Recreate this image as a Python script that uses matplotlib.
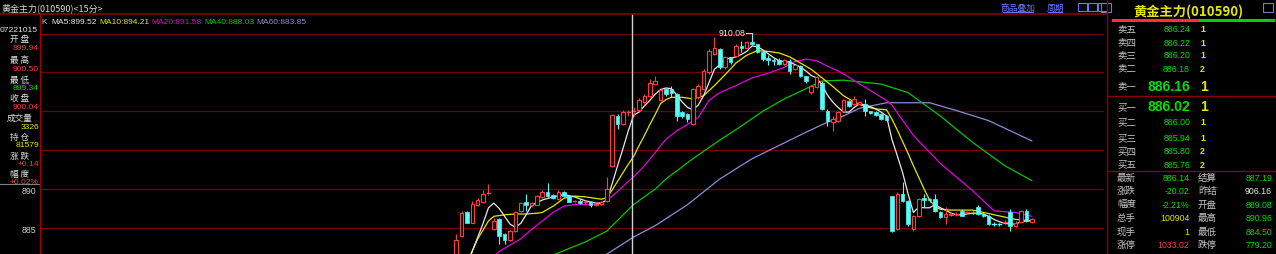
import matplotlib
matplotlib.use('Agg')
import matplotlib.pyplot as plt
from matplotlib.lines import Line2D
from matplotlib.patches import Rectangle

# ---------------- data ----------------
opens = [881.5, 884.0, 887.0, 885.7, 887.9, 888.3, 889.4, 884.9, 886.16, 884.2,
         883.4, 884.65, 887.2, 888.3, 887.9, 888.0, 888.95, 889.6, 889.25, 888.7,
         889.65, 889.15, 888.35, 888.5, 888.3, 888.4, 887.9, 888.1, 888.5, 893.0,
         899.45, 898.4, 899.85, 899.94, 900.2, 901.2, 902.0, 903.5, 901.45, 902.85,
         902.85, 902.2, 899.9, 899.65, 898.35, 901.8, 902.9, 905.0, 907.35, 908.0,
         905.65, 906.95, 907.1, 908.4, 908.2, 908.85, 908.6, 907.6, 906.8, 906.6,
         906.55, 906.1, 906.5, 905.45, 905.85, 904.55, 902.45, 903.1, 903.7, 900.1,
         898.6, 898.8, 900.1, 901.35, 900.9, 900.95, 900.95, 900.0, 899.9, 899.65,
         899.4, 889.08, 884.9, 889.4, 888.5, 884.9, 886.6, 888.8, 888.75, 888.7,
         887.1, 886.4, 886.7, 886.75, 887.2, 886.95, 887.05, 887.65, 886.8, 886.6,
         885.55, 885.55, 885.7, 887.0, 885.3, 885.75, 887.2, 885.75]
highs = [884.2, 887.2, 887.2, 888.5, 888.8, 889.9, 890.7, 886.3, 886.3, 884.4,
         884.8, 887.2, 888.4, 889.4, 888.4, 889.3, 889.9, 890.8, 889.4, 889.9,
         889.8, 889.3, 888.6, 888.7, 888.6, 888.5, 888.2, 888.5, 891.5, 899.7,
         899.6, 900.2, 900.2, 900.50, 901.7, 902.2, 904.15, 904.6, 902.9, 903.0,
         903.2, 902.4, 900.1, 899.8, 903.0, 903.5, 905.4, 908.0, 909.5, 908.2,
         907.1, 907.0, 908.6, 909.1, 909.0, 910.08, 908.7, 907.7, 907.2, 906.9,
         906.8, 906.7, 906.7, 906.0, 906.0, 904.6, 903.4, 904.5, 903.9, 900.3,
         899.4, 900.1, 901.6, 901.5, 902.0, 901.3, 901.6, 900.1, 900.0, 899.8,
         899.5, 889.1, 889.6, 890.96, 888.6, 886.7, 888.9, 889.4, 888.9, 889.4,
         887.2, 887.65, 887.0, 887.0, 887.4, 887.2, 887.2, 887.9, 886.9, 886.7,
         885.8, 885.7, 886.0, 887.45, 885.9, 887.3, 887.4, 886.3]
lows = [881.2, 883.8, 885.6, 885.6, 887.8, 888.2, 889.3, 884.7, 882.94, 882.9,
        883.3, 884.5, 887.1, 887.2, 887.7, 887.9, 888.9, 889.0, 888.7, 888.6,
        889.0, 888.3, 888.2, 888.1, 888.1, 887.7, 887.8, 888.0, 888.4, 892.9,
        897.7, 898.2, 899.45, 899.34, 900.0, 901.0, 901.9, 903.4, 901.3, 902.0,
        901.8, 898.8, 899.2, 898.6, 898.2, 901.6, 902.7, 904.8, 907.2, 905.4,
        905.5, 906.1, 907.0, 907.6, 908.1, 908.5, 907.5, 906.5, 905.9, 905.9,
        906.0, 906.0, 904.8, 905.3, 904.4, 903.7, 902.2, 903.0, 900.2, 898.15,
        897.5, 898.6, 900.0, 900.6, 900.8, 900.8, 899.45, 899.6, 899.4, 898.9,
        898.8, 884.50, 884.7, 888.3, 885.3, 884.65, 886.4, 887.65, 888.4, 887.0,
        886.3, 885.5, 886.5, 886.6, 886.5, 886.8, 886.8, 886.7, 886.4, 885.4,
        885.3, 885.3, 885.5, 884.65, 885.1, 885.6, 885.8, 885.6]
closes = [883.5, 886.9, 885.7, 888.1, 888.6, 889.4, 889.5, 885.95, 883.97, 883.4,
          884.65, 887.0, 888.2, 887.9, 888.2, 889.1, 889.6, 889.1, 888.8, 889.65,
          889.15, 888.4, 888.45, 888.2, 888.4, 887.95, 888.1, 888.35, 890.0, 899.5,
          898.35, 899.9, 899.95, 900.04, 901.5, 902.0, 903.7, 903.9, 902.7, 902.2,
          902.4, 899.4, 899.45, 899.0, 902.85, 903.3, 905.2, 907.8, 908.2, 905.65,
          906.95, 906.3, 908.4, 908.2, 908.85, 908.65, 907.6, 906.7, 906.65, 906.45,
          906.1, 906.55, 905.2, 905.9, 904.55, 903.9, 903.3, 904.4, 900.3, 898.8,
          899.0, 899.9, 901.4, 900.7, 901.55, 901.15, 900.1, 899.75, 899.5, 899.0,
          898.9, 884.65, 889.4, 888.5, 885.5, 886.6, 888.7, 888.65, 888.6, 887.2,
          886.4, 886.8, 886.85, 886.85, 886.6, 887.05, 886.95, 886.8, 886.6, 885.5,
          885.45, 885.45, 885.8, 885.3, 885.7, 887.2, 885.95, 886.14]

ma5_idx = [2, 4, 5, 6, 7, 8, 9, 10, 11, 12, 13, 14, 16, 18, 20, 22, 24, 26, 27, 28,
           29, 30, 31, 32, 33, 34, 35, 36, 37, 38, 39, 40, 41, 42, 43, 44, 45, 46, 47, 48,
           49, 50, 51, 52, 53, 54, 55, 56, 57, 58, 59, 60, 62, 64, 65, 66, 67, 68, 69, 70,
           71, 72, 73, 74, 75, 76, 77, 78, 79, 80, 81, 82, 83, 84, 85, 86, 87, 88, 89, 90,
           91, 92, 93, 94, 95, 96, 97, 98, 99, 100, 101, 102, 103, 104, 105, 106, 107]
ma5_val = [880.2, 883.8, 885.6, 887.6, 888.2, 887.5, 886.5, 885.5, 885.1, 885.6, 886.7, 887.9,
           888.6, 889.0, 889.3, 889.0, 888.5, 888.2, 888.2, 888.6,
           890.7, 893.0, 895.2, 897.5, 899.52, 899.9, 900.7, 901.4, 902.2, 902.8, 903.0, 902.9,
           902.1, 901.2, 900.5, 900.2, 900.8, 902.0, 903.7, 905.4,
           906.0, 906.8, 906.8, 907.0, 907.3, 907.7, 908.4, 908.3, 907.9, 907.4, 906.9, 906.5,
           906.3, 905.7, 905.2, 904.6, 904.3, 903.4, 902.1, 901.2,
           900.5, 899.9, 899.9, 900.5, 901.0, 900.8, 900.6, 900.3, 899.9, 899.4, 896.4, 894.3,
           892.1, 889.4, 887.0, 887.7, 887.6, 887.6, 888.0, 887.6,
           887.3, 886.9, 886.7, 886.7, 886.8, 886.9, 886.9, 886.8, 886.5, 886.1, 885.8, 885.6,
           885.5, 885.5, 885.8, 885.9, 886.0]
ma10_idx = [2, 4, 6, 7, 9, 11, 13, 15, 16, 17, 18, 19, 20, 21, 22, 24, 26, 27, 28,
            29, 30, 31, 32, 33, 34, 35, 36, 37, 38, 39, 40, 42, 44, 46, 48, 50, 52, 54, 56,
            58, 60, 62, 64, 66, 68, 70, 72, 74, 76, 78, 80, 81, 82, 83, 84, 85, 86, 87, 88,
            89, 90, 92, 94, 96, 98, 100, 102, 104, 107]
ma10_val = [880.6, 883.6, 885.9, 886.5, 886.7, 886.8, 886.8, 886.9, 887.0, 887.4, 887.8,
            888.3, 888.8, 889.0, 889.1, 889.0, 888.8, 888.7, 888.9,
            889.9, 891.0, 892.1, 893.2, 894.21, 895.6, 896.9, 898.3, 899.6, 901.0, 901.5, 901.8,
            901.8, 901.6, 902.0, 903.3, 904.7, 906.2, 907.2, 907.8,
            907.7, 907.5, 907.0, 906.2, 905.4, 904.3, 903.2, 902.0, 901.2, 900.6, 900.3, 900.2,
            899.0, 897.6, 896.1, 894.6, 893.0, 891.5, 890.0, 888.6,
            887.8, 887.4, 887.3, 887.3, 887.3, 887.0, 886.7, 886.4, 886.1, 885.9]
ma20_idx = [5, 8, 12, 14, 16, 18, 20, 22, 24, 26, 28, 30, 32, 33, 35, 37, 39, 41, 43, 45,
            47, 49, 52, 55, 58, 61, 63, 65, 67, 69, 71, 72, 76, 80, 81, 85, 90, 96, 100, 104, 107]
ma20_val = [879.8, 882.0, 883.6, 884.8, 885.9, 887.0, 887.8, 888.0, 888.0, 888.0, 888.5,
            889.7, 891.0, 891.58, 893.0, 894.7, 896.4, 897.5, 898.3, 899.2,
            901.4, 902.4, 903.3, 904.3, 904.9, 905.65, 906.4, 906.7, 906.5, 905.8, 905.2,
            904.8, 903.1, 901.4, 900.8, 896.9, 893.3, 889.8, 887.2, 887.0, 886.5]
ma40_idx = [16, 20, 24, 28, 33, 37, 39, 44, 49, 53, 57, 61, 65, 68, 72, 79, 84, 90, 96, 102, 107]
ma40_val = [880.9, 882.1, 883.2, 884.6, 888.03, 890.0, 891.3, 893.9, 896.3, 898.1, 900.0,
            901.6, 902.9, 903.9, 904.0, 903.5, 902.4, 899.4, 896.0, 893.0, 891.1]
ma60_idx = [27, 33, 37, 43, 49, 55, 60, 65, 69, 72, 75, 80, 88, 93, 99, 103, 107]
ma60_val = [881.2, 883.85, 885.3, 888.0, 891.3, 893.9, 895.6, 897.3, 898.6, 899.4, 900.4,
            901.1, 901.1, 900.1, 898.8, 897.5, 896.2]

grid_prices = [885, 890, 895, 900, 905, 910]
axis_labels = ['890', '885']
axis_label_prices = [890, 885]
cursor_idx = 33
peak_label = '910.08'

info_labels = ['开 盘', '最 高', '最 低', '收 盘', '成交量', '持 仓', '涨 跌', '幅 度']
info_values = ['899.94', '900.50', '899.34', '900.04', '3326', '81579', '+0.14', '+0.02%']
info_date = '07221015'

legend_names = ['MA5', 'MA10', 'MA20', 'MA40', 'MA60']
legend_values = ['899.52', '894.21', '891.58', '888.03', '883.85']

title_text = '黄金主力(010590)<15分>'
panel_title = '黄金主力(010590)'
ask_labels = ['卖五', '卖四', '卖三', '卖二', '卖一']
ask_prices = ['886.24', '886.22', '886.20', '886.18', '886.16']
ask_vols = ['1', '1', '1', '2', '1']
bid_labels = ['买一', '买二', '买三', '买四', '买五']
bid_prices = ['886.02', '886.00', '885.94', '885.80', '885.76']
bid_vols = ['1', '1', '1', '2', '2']
stat_l_labels = ['最新', '涨跌', '幅度', '总手', '现手', '涨停']
stat_l_values = ['886.14', '-20.02', '-2.21%', '100904', '1', '1033.02']
stat_r_labels = ['结算', '昨结', '开盘', '最高', '最低', '跌停']
stat_r_values = ['887.19', '906.16', '889.08', '890.96', '884.50', '779.20']

# ---------------- style ----------------
W, H = 1276, 255
BG = '#000000'
RED = '#ff3c3c'
CYAN = '#54fcfc'
GRID = '#700000'
GREEN = '#00e000'
YEL = '#e6e600'
LBL = '#c8c8c8'
MA_COLORS = ['#e8e8e8', '#e6e600', '#e000e0', '#00c800', '#8c8cd8']
CJK = ['Noto Sans CJK SC', 'DejaVu Sans']
NUM = ['Liberation Sans', 'DejaVu Sans']

fig = plt.figure(figsize=(W / 100, H / 100), dpi=100, facecolor=BG)


def ft(x, y, s, **kw):
    kw.setdefault('va', 'center')
    return fig.text(x / W, 1 - y / H, s, **kw)


def fline(x0, x1, y0, y1, color, lw=1.0):
    fig.add_artist(Line2D([x0 / W, x1 / W], [1 - y0 / H, 1 - y1 / H],
                          color=color, lw=lw, transform=fig.transFigure))


# main chart axes: pixel x 40..1104, y 15..255
AX_L, AX_R, AX_T, AX_B = 40, 1104, 15, 255
ax = fig.add_axes([AX_L / W, 1 - AX_B / H, (AX_R - AX_L) / W, (AX_B - AX_T) / H])
ax.set_facecolor(BG)
X0, DX = 456.2, 5.379
PPU, P0, Y0 = 7.78, 885.0, 229.0
ax.set_xlim((AX_L - X0) / DX, (AX_R - X0) / DX)
ax.set_ylim(P0 + (Y0 - AX_B) / PPU, P0 + (Y0 - AX_T) / PPU)
for s in ax.spines.values():
    s.set_visible(False)
ax.set_xticks([])
ax.set_yticks([])

for p in grid_prices:
    ax.axhline(p, color=GRID, lw=0.9, zorder=1)

# moving averages
for idx, val, col in zip([ma60_idx, ma40_idx, ma20_idx, ma10_idx, ma5_idx],
                         [ma60_val, ma40_val, ma20_val, ma10_val, ma5_val],
                         MA_COLORS[::-1]):
    ax.plot(idx, val, color=col, lw=0.9, zorder=3)

# candles
bw = 0.66
for i, (o, h, l, c) in enumerate(zip(opens, highs, lows, closes)):
    up = c >= o
    col = RED if up else CYAN
    top, bot = max(o, c), min(o, c)
    if h > top:
        ax.plot([i, i], [top, h], color=col, lw=0.8, zorder=4, solid_capstyle='butt')
    if l < bot:
        ax.plot([i, i], [l, bot], color=col, lw=0.8, zorder=4, solid_capstyle='butt')
    if top - bot < 0.13:
        ax.plot([i - bw / 2, i + bw / 2], [c, c], color=col, lw=1.0, zorder=5)
    elif up:
        ax.add_patch(Rectangle((i - bw / 2, bot), bw, top - bot, facecolor=BG,
                               edgecolor=col, lw=0.8, zorder=5))
    else:
        ax.add_patch(Rectangle((i - bw / 2, bot), bw, top - bot, facecolor=col,
                               edgecolor=col, lw=0.5, zorder=5))

# cursor line
ax.axvline(cursor_idx - 0.3, color='#d0d0d0', lw=1.0, zorder=6)

# peak annotation
pk = highs.index(max(highs))
ax.plot([pk - 1.15, pk], [highs[pk], highs[pk]], color='#d0d0d0', lw=0.8, zorder=6)
ax.text(pk - 1.3, highs[pk], peak_label, color='#e8e8e8', fontsize=6.3,
        family=NUM, ha='right', va='center', zorder=6)

# legend row
ft(41, 22, 'K', color=LBL, fontsize=6, family=NUM, ha='left')
lx = 51.5
for n, v, col in zip(legend_names, legend_values, MA_COLORS):
    ft(lx, 22, f'{n}:{v}', color=col, fontsize=6, family=NUM, ha='left')
    lx += 47.5 if n == 'MA5' else 52.5

# ---------------- title bar ----------------
ft(1, 8, title_text, color='#d8d8d8', fontsize=6.5, family=CJK, ha='left')
fline(0, 1106, 15, 15, '#8a0000', 1.2)
ft(1018, 8, '商品叠加', color='#6a78ff', fontsize=6.3, family=CJK, ha='center')
ft(1055, 8, '周期', color='#6a78ff', fontsize=6.3, family=CJK, ha='center')
fline(1003, 1033, 13, 13, '#6a78ff', 0.7)
fline(1048, 1062, 13, 13, '#6a78ff', 0.7)
for bx in (1078, 1088, 1098):
    fig.add_artist(Rectangle((bx / W, 1 - 12 / H), 9 / W, 8 / H, fill=False,
                             edgecolor='#6a78ff', lw=0.8, transform=fig.transFigure))

# ---------------- left info panel ----------------
fline(39.5, 39.5, 15, 255, '#a00000', 1.0)
fline(0, 39, 185, 185, '#808080', 0.8)
ft(0, 30, info_date, color='#e8e8e8', fontsize=6.1, family=NUM, ha='left')
lab_y = [39.5, 60.5, 80, 98.5, 118.5, 137.5, 156.5, 174]
val_y = [48.5, 69.5, 88.5, 107.5, 127.5, 146, 164.5, 182.5]
val_cols = [RED, RED, GREEN, RED, YEL, YEL, RED, RED]
for lab, y in zip(info_labels, lab_y):
    ft(20, y, lab, color='#e0e0e0', fontsize=6.2, family=CJK, ha='center')
for v, y, col in zip(info_values, val_y, val_cols):
    ft(39, y, v, color=col, fontsize=6.1, family=NUM, ha='right')
for lab, p in zip(axis_labels, axis_label_prices):
    ft(36, Y0 - (p - P0) * PPU + 1.5, lab, color='#d0d0d0', fontsize=6.3, family=NUM, ha='right')

# ---------------- right quote panel ----------------
fline(1106.5, 1106.5, 0, 255, '#8a0000', 1.0)
ft(1188, 11.5, panel_title, color=YEL, fontsize=9.5, family=CJK, weight='bold', ha='center')
fig.add_artist(Rectangle((1101 / W, 1 - 13 / H), 10 / W, 9 / H, fill=False,
                         edgecolor='#7080c0', lw=0.8, transform=fig.transFigure))
fig.add_artist(Rectangle((1263 / W, 1 - 13 / H), 10 / W, 9 / H, fill=False,
                         edgecolor='#7080c0', lw=0.8, transform=fig.transFigure))
fline(1113, 1200, 20.5, 20.5, '#ff3030', 2.2)
fline(1200, 1273, 20.5, 20.5, '#00d000', 2.2)

ask_y = [30, 43.3, 56, 69.3, 87.3]
for k, (lab, pr, vo, y) in enumerate(zip(ask_labels, ask_prices, ask_vols, ask_y)):
    big = k == 4
    ft(1117, y, lab, color=LBL, fontsize=6.8, family=CJK, ha='left')
    ft(1190, y, pr, color=GREEN, fontsize=10 if big else 6.3, family=NUM,
       weight='bold' if big else 'normal', ha='right')
    ft(1200, y, vo, color=YEL, fontsize=10 if big else 6.3, family=NUM,
       weight='bold', ha='left')
fline(1108, 1276, 97.3, 97.3, '#8a0000', 1.0)
bid_y = [107.3, 122.3, 138.3, 151.7, 165]
for k, (lab, pr, vo, y) in enumerate(zip(bid_labels, bid_prices, bid_vols, bid_y)):
    big = k == 0
    ft(1117, y, lab, color=LBL, fontsize=6.8, family=CJK, ha='left')
    ft(1190, y, pr, color=GREEN, fontsize=10 if big else 6.3, family=NUM,
       weight='bold' if big else 'normal', ha='right')
    ft(1200, y, vo, color=YEL, fontsize=10 if big else 6.3, family=NUM,
       weight='bold', ha='left')
fline(1108, 1276, 171.7, 171.7, '#8a0000', 1.0)

stat_y = [178.3, 191.7, 205, 218.3, 232.3, 245.7]
l_cols = [GREEN, GREEN, GREEN, YEL, YEL, RED]
r_cols = [GREEN, '#e8e8e8', GREEN, GREEN, GREEN, GREEN]
for a, b, c, d, y, c1, c2 in zip(stat_l_labels, stat_l_values, stat_r_labels, stat_r_values,
                                 stat_y, l_cols, r_cols):
    ft(1117, y, a, color=LBL, fontsize=6.8, family=CJK, ha='left')
    ft(1189.5, y, b, color=c1, fontsize=6.3, family=NUM, ha='right')
    ft(1198, y, c, color=LBL, fontsize=6.8, family=CJK, ha='left')
    ft(1272, y, d, color=c2, fontsize=6.3, family=NUM, ha='right')

fig.savefig('out.png', dpi=100, facecolor=BG)
